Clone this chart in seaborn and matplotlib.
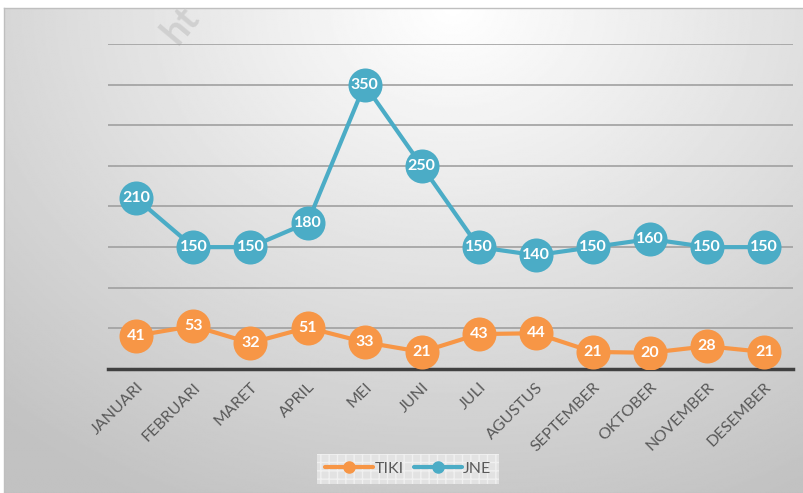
import numpy as np
import pandas as pd
import matplotlib.pyplot as plt
from matplotlib.lines import Line2D
import seaborn as sns

# data
bulan = ['JANUARI', 'FEBRUARI', 'MARET', 'APRIL', 'MEI', 'JUNI', 'JULI',
         'AGUSTUS', 'SEPTEMBER', 'OKTOBER', 'NOVEMBER', 'DESEMBER']
tiki = [41, 53, 32, 51, 33, 21, 43, 44, 21, 20, 28, 21]
jne = [210, 150, 150, 180, 350, 250, 150, 140, 150, 160, 150, 150]
warna = {'TIKI': '#F79646', 'JNE': '#4BACC6'}

df = pd.DataFrame({
    'bulan': bulan * 2,
    'x': list(range(len(bulan))) * 2,
    'nilai': tiki + jne,
    'kurir': ['TIKI'] * len(bulan) + ['JNE'] * len(bulan),
})

sns.set_theme(style='white')
plt.rcParams['font.family'] = ['Lato', 'DejaVu Sans']

fig = plt.figure(figsize=(8.04, 4.93), dpi=100)

# background gradient
bg = fig.add_axes([0.005, 0, 0.995, 0.984], zorder=0)
h, w = 300, 500
yy, xx = np.mgrid[0:h, 0:w]
d = np.sqrt(((xx - w * 0.56) / w) ** 2 + ((yy) / h * 0.75) ** 2)
d = np.clip(d / 0.85, 0, 1)
shade = 1.0 - 0.24 * d
bg.imshow(shade, cmap='gray', vmin=0, vmax=1, aspect='auto', interpolation='bilinear')
bg.set_xticks([])
bg.set_yticks([])
for s in bg.spines.values():
    s.set_color('#bfbfbf')
    s.set_linewidth(1)

fig.text(0.225, 0.95, 'ht', rotation=50, fontsize=28, fontweight='bold',
         color='#d0d0d0', ha='center', va='center', zorder=1)

ax = fig.add_axes([0.134, 0.2515, 0.852, 0.6593], zorder=2)
ax.patch.set_alpha(0)

sns.lineplot(data=df, x='x', y='nilai', hue='kurir', palette=warna, marker='o',
             markersize=24.5, markeredgewidth=0, linewidth=3, ax=ax, legend=False,
             zorder=3)

for xi, (t, j) in enumerate(zip(tiki, jne)):
    for v in (t, j):
        ax.text(xi, v, str(v), color='white', fontsize=11.5, fontweight='bold',
                ha='center', va='center', zorder=5)

ax.set_xlim(-0.5, len(bulan) - 0.5)
ax.set_ylim(0, 400)
ax.set_yticks(np.arange(50, 401, 50))
ax.set_yticklabels([])
ax.tick_params(axis='y', length=0)
ax.grid(axis='y', color='#a0a0a0', linewidth=1.2)
ax.set_axisbelow(True)
ax.set_xticks(range(len(bulan)))
ax.set_xticklabels(bulan, rotation=45, ha='right', rotation_mode='anchor',
                   fontsize=11.5, color='#595959')
ax.tick_params(axis='x', length=0, pad=8)
ax.set_xlabel('')
ax.set_ylabel('')
for s in ['top', 'right', 'left']:
    ax.spines[s].set_visible(False)
ax.spines['bottom'].set_color('#404040')
ax.spines['bottom'].set_linewidth(2.5)

handles = [Line2D([0], [0], color=warna[k], lw=3, marker='o', markersize=8) for k in warna]
leg = fig.legend(handles, list(warna), loc='center', bbox_to_anchor=(0.508, 0.049),
                 ncol=2, frameon=True, fontsize=11.5, handlelength=3.0,
                 columnspacing=0.6, handletextpad=0.1, borderpad=0.5, fancybox=False)
leg.get_frame().set_facecolor('#e9e9e9')
leg.get_frame().set_edgecolor('#f4f4f4')
leg.get_frame().set_hatch('++')
leg.get_frame().set_linewidth(0)
for t in leg.get_texts():
    t.set_color('#595959')

fig.savefig('out.png', dpi=100)
